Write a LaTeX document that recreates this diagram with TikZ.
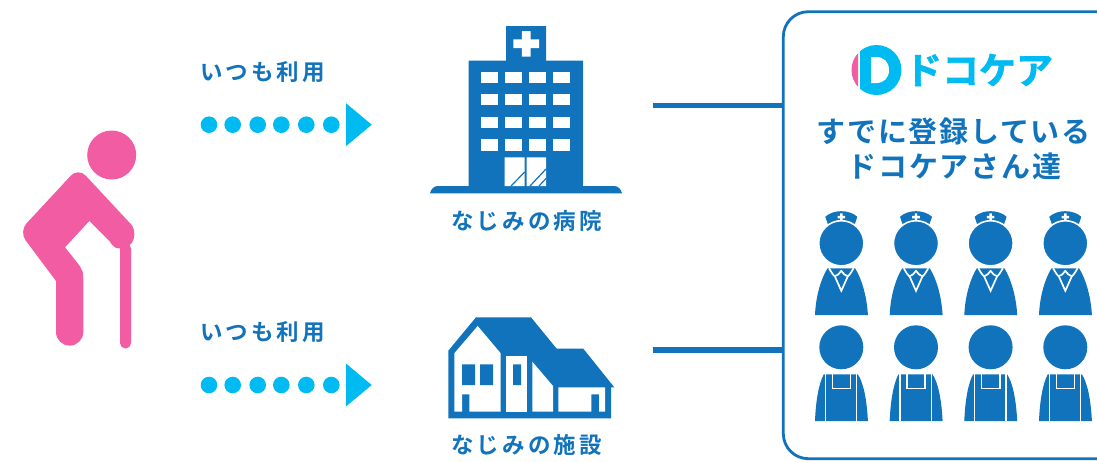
\documentclass[tikz,border=0pt]{standalone}
\usepackage{fontspec}
\newfontfamily\jp[BoldFont={Noto Sans CJK JP Bold}]{Noto Sans CJK JP}
\newfontfamily\jpblack[FakeBold=1.6]{Noto Sans CJK JP Bold}
\definecolor{bluec}{HTML}{1173BC}
\definecolor{cyanc}{HTML}{00BBF2}
\definecolor{pinkc}{HTML}{F25CA2}
\tikzset{
  small label/.style={text=bluec,font=\jp\bfseries\fontsize{22.5}{22.5}\selectfont\addfontfeature{LetterSpace=13.5},inner sep=0pt},
  panel title/.style={text=bluec,font=\jp\bfseries\fontsize{29}{29}\selectfont\addfontfeature{LetterSpace=6},inner sep=0pt},
  link/.style={draw=bluec,line width=5.5pt},
  dotted arrow/.pic={
    \foreach \dx in {209,232.7,257.7,281.3,306.3,331.3}{\fill[cyanc] (\dx,0) circle[radius=8.3];}
    \fill[cyanc] (346,-21.5) -- (371.7,0) -- (346,21.5) -- cycle;
  },
  nurse/.pic={
    \fill[bluec] (-16,-26.5) .. controls (-8,-34) and (8,-34) .. (16,-26.5) -- (12.4,-16) .. controls (5,-21) and (-5,-21) .. (-12.4,-16) -- cycle;
    \fill[white] (-1.2,-30) rectangle (1.2,-22.4) (-3.8,-27.4) rectangle (3.8,-25);
    \draw[white,fill=bluec,line width=1.6pt] (0,0) circle[radius=22.6];
    \fill[bluec] (-26.3,71.7) .. controls (-25.5,52) and (-20,35) .. (-13.8,25) -- (13.8,25) .. controls (20,35) and (25.5,52) .. (26.6,71.7) -- cycle;
    \draw[white,line width=1.7pt,line join=round] (-12.2,25) .. controls (-10,29) and (-8,32) .. (-6.5,33) .. controls (-4,32.5) and (-1.5,30) .. (0,27.5) .. controls (1.5,30) and (4,32.5) .. (6.5,33) .. controls (8,32) and (10,29) .. (12.2,25);
    \draw[white,line width=1.7pt,line join=miter] (-6.5,33) -- (0,47.5) -- (6.5,33);
  },
  helper/.pic={
    \fill[bluec] (0,0) circle[radius=22];
    \fill[bluec] (-26.3,73.7) .. controls (-25.5,52) and (-22,35) .. (-17.5,27) -- (16.5,27) .. controls (22,35) and (25.5,52) .. (26.6,73.7) -- cycle;
    \draw[white,line width=1.5pt] (-16,26.7) -- (-16,74) (15.4,26.7) -- (15.4,74);
    \draw[white,line width=1.6pt] (-9,26.7) -- (-9,41) -- (9.2,41) -- (9.2,26.7);
    \fill[white] (-30,26) rectangle (30,26.7);
  },
}
\begin{document}
\begin{tikzpicture}[x=1pt,y=-1pt]
\clip (0,0) rectangle (1097,461);
% person
\fill[pinkc] (111.7,155) circle[radius=24.5];
\fill[pinkc] (56,281) [rounded corners=11pt] -- (19,231.5) -- (78.3,167.6) -- (100,191) [sharp corners] -- (131.7,225)
  .. controls (136.7,231.7) and (136,249.3) .. (118.3,248.3)
  .. controls (115,248.3) and (111.7,245) .. (110,241.7)
  -- (89.3,221) -- (65,247.3) [rounded corners=5pt] -- (81.7,268.3) -- (83.3,275) -- (83.3,290) [sharp corners]
  -- (83.3,332) arc[start angle=0,end angle=180,radius=13.65] -- cycle;
\fill[pinkc,rounded corners=5.4pt] (120,243) -- (131,243) -- (131,348.5) -- (120,348.5) -- cycle;
% upper flow
\node[small label] (use1) at (262.5,72) {いつも利用};
\pic at (0,124.7) {dotted arrow};
\node[small label] (use2) at (262.5,332) {いつも利用};
\pic at (0,385) {dotted arrow};
% hospital
\fill[bluec] (506,26) rectangle (546,61) (468.7,60.7) rectangle (583,188);
\fill[bluec] (430,193.3) .. controls (431,189) and (434,186) .. (438,186) -- (614,186) .. controls (618,186) and (621,189) .. (622,193.3) -- cycle;
\fill[white] (513.3,39.4) rectangle (539,48) (521.8,31) rectangle (530.5,56.7);
\foreach \wx in {480.7,504.7,528.7,552.7}\foreach \wy in {72,94,116.7,139.3}{\fill[white] (\wx,\wy) rectangle ++(17.3,11.3);}
\fill[white] (504.7,157.3) rectangle (524.7,186) (526.7,157.3) rectangle (546,186);
\draw[bluec,line width=1.2pt] (511,186) -- (524.7,172) (530,186) -- (546,169) (539,186) -- (546,178.5);
\node[small label] (hospital) at (526.5,221) {なじみの病院};
% house
\fill[bluec] (448.3,350.7) -- (476,317.3) -- (531,317.3) -- (556.7,348.7) -- (583.3,348.7) -- (614.3,387.3) -- (611,387.3) -- (611,418.3) -- (448.3,418.3) -- cycle;
\fill[white] (454.3,353.3) -- (477.7,326) -- (500.7,353.3) -- (500.7,411.7) -- (469.3,411.7) -- (469.3,394.3) -- (462,394.3) -- (462,411.7) -- (454.3,411.7) -- cycle;
\fill[white] (506.3,355.7) rectangle (526.7,411.7);
\fill[white] (532.3,361.7) -- (553,386) -- (553,411.7) -- (532.3,411.7) -- cycle;
\fill[white] (558.3,387.3) -- (605,387.3) -- (605,411.7) -- (599,411.7) -- (599,394.3) -- (591.3,394.3) -- (591.3,411.7) -- (558.3,411.7) -- cycle;
\fill[bluec] (462,364.3) rectangle (475,385) (480,364.3) rectangle (493,385) (513,364.3) rectangle (521,385);
\node[small label] (facility) at (526.5,445) {なじみの施設};
% panel
\node[draw=bluec,line width=2.8pt,rounded corners=25pt,minimum width=370pt,minimum height=447pt,anchor=north west,inner sep=0pt,outer sep=0pt] (panel) at (783.3,11.7) {};
\coordinate (link1) at (652.5,105.5);
\coordinate (link2) at (652.5,350);
\draw[link] (link1) -- (panel.west |- link1);
\draw[link] (link2) -- (panel.west |- link2);
% logo
\begin{scope}
\clip (851,40) rectangle (858,100);
\fill[pinkc] (876.5,70) circle[radius=25];
\end{scope}
\begin{scope}
\clip (860,40) rectangle (905,100);
\fill[cyanc] (876.5,70) circle[radius=25];
\end{scope}
\fill[white] (871,57) -- (876,57) .. controls (884,57) and (889,62) .. (889,70) .. controls (889,78) and (884,83) .. (876,83) -- (871,83) -- cycle;
\node[text=cyanc,font=\jpblack\fontsize{37}{37}\selectfont,inner sep=0pt] (brand) at (979,70) {ドコケア};
% title
\node[panel title] (title1) at (953.5,131) {すでに登録している};
\node[panel title] (title2) at (954.5,166) {ドコケアさん達};
% staff
\foreach \cx in {841.3,916,990.6,1065.3}{
  \pic at (\cx,243.3) {nurse};
  \pic at (\cx,347.3) {helper};
}
\end{tikzpicture}
\end{document}
